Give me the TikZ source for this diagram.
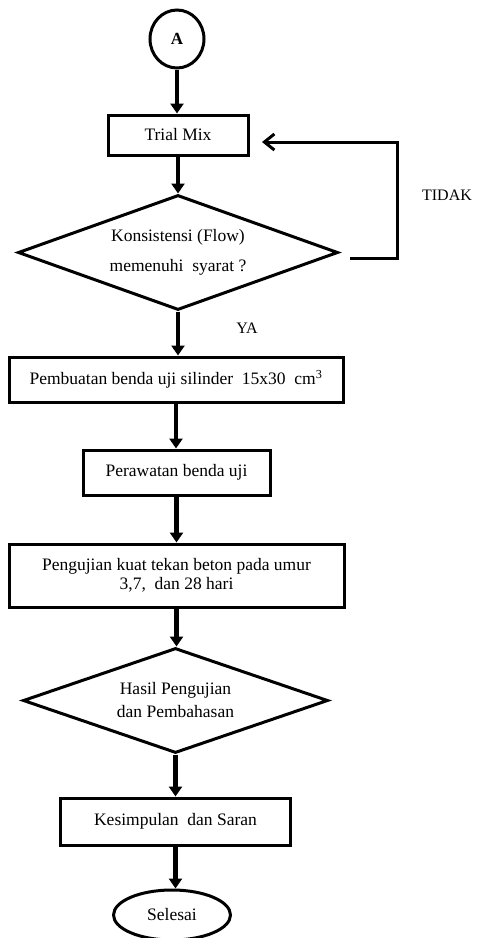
\documentclass[tikz,border=0pt]{standalone}
\usepackage{fontspec}
\setmainfont{Liberation Serif}
\usetikzlibrary{shapes.geometric,arrows.meta,shadows}
\begin{document}
\begin{tikzpicture}[x=1pt,y=-1pt,
  font=\fontsize{17.5}{20}\selectfont,
  box/.style={draw, line width=3pt, rectangle, inner sep=0pt, fill=white,
    drop shadow={shadow xshift=1.5pt, shadow yshift=-1.5pt, fill=black!45, opacity=1}},
  dec/.style={draw, line width=3pt, diamond, inner sep=0pt, align=center, line join=miter},
  term/.style={draw, line width=3pt, ellipse, inner sep=0pt},
  flow/.style={line width=4.5pt, -{Triangle[width=13pt,length=10pt]}},
  back/.style={line width=3pt, line join=miter, -{Straight Barb[width=16pt,length=10pt,line width=3pt]}},
  lbl/.style={font=\fontsize{16}{18}\selectfont, inner sep=0pt}
]
\useasboundingbox (0,0) rectangle (481,938);

\node[term, minimum width=54pt, minimum height=58pt, font=\fontsize{17}{18}\selectfont\bfseries] (A) at (177,39) {A};
\node[box, minimum width=140pt, minimum height=40pt] (trial) at (178,135) {Trial Mix};
\node[dec, aspect=2.78, minimum width=320pt, minimum height=115pt, font=\fontsize{17.5}{30}\selectfont] (kons) at (178,252.5) {Konsistensi (Flow)\\memenuhi\ \ syarat ?};
\node[box, minimum width=334pt, minimum height=45pt] (buat) at (176,379.5) {Pembuatan benda uji silinder\ \ 15x30\ \ cm\textsuperscript{3}};
\node[box, minimum width=187pt, minimum height=45pt] (rawat) at (176.5,472.5) {Perawatan benda uji};
\node[box, align=center, minimum width=335pt, minimum height=63pt, font=\fontsize{17.5}{18.5}\selectfont] (uji) at (176.5,575.5) {Pengujian kuat tekan beton pada umur\\3,7,\ \ dan 28 hari};
\node[dec, aspect=2.9, minimum width=305pt, minimum height=105pt, font=\fontsize{17.5}{23}\selectfont] (hasil) at (175.5,700.5) {Hasil Pengujian\\dan Pembahasan};
\node[box, minimum width=230pt, minimum height=47pt] (simpul) at (175.5,821.5) {Kesimpulan\ \ dan Saran};
\node[term, minimum width=117pt, minimum height=50pt] (selesai) at (172,915) {Selesai};

\node[lbl] (ya) at (247,328) {YA};
\node[lbl] (tidak) at (447,195) {TIDAK};

\draw[flow] (A.south) -- (A.south |- trial.north);
\draw[flow] (trial.south) -- (trial.south |- kons.north);
\draw[flow] (kons.south) -- (kons.south |- buat.north);
\draw[flow] (buat.south) -- (buat.south |- rawat.north);
\draw[flow] (rawat.south) -- (rawat.south |- uji.north);
\draw[flow] (uji.south) -- (uji.south |- hasil.north);
\draw[flow] (hasil.south) -- (hasil.south |- simpul.north);
\draw[flow] (simpul.south) -- (simpul.south |- selesai.north);

\coordinate (fbA) at (350,258);
\coordinate (fbB) at (397,142);
\coordinate (fbC) at (262,142);
\draw[back] (fbA) -| (fbB) -- (fbC);
\end{tikzpicture}
\end{document}
